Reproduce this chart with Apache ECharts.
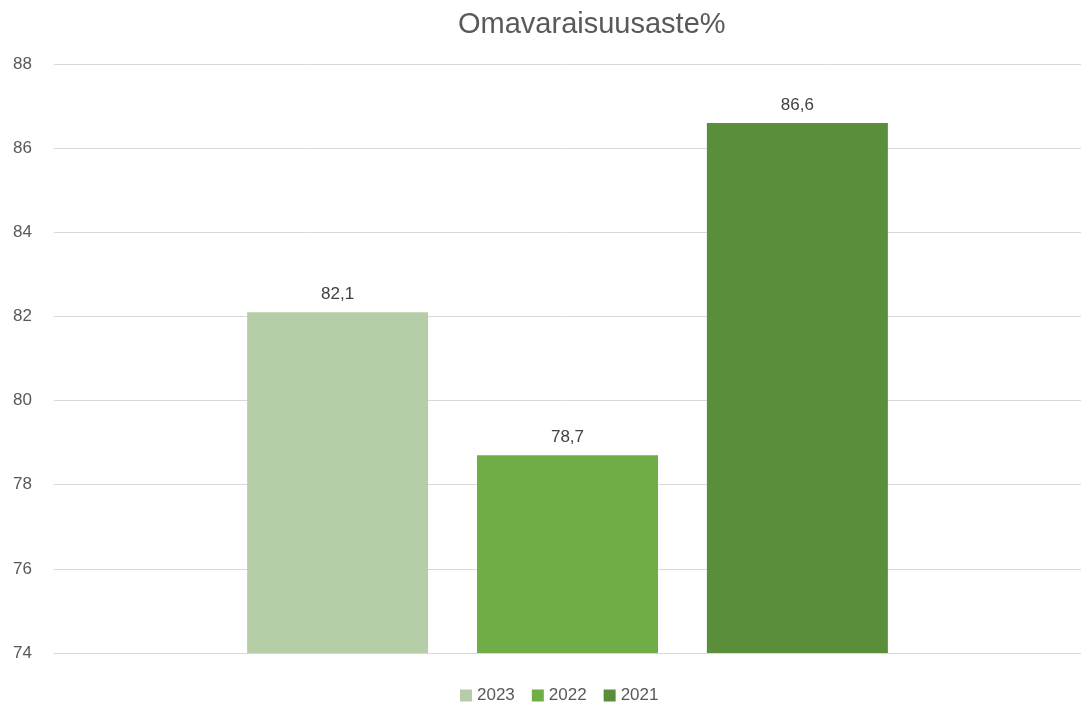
<!DOCTYPE html>
<html>
<head>
<meta charset="utf-8">
<script src="https://cdn.jsdelivr.net/npm/echarts@6/dist/echarts.min.js"></script>
<style>html,body{margin:0;padding:0;background:#fff;}#c{width:1081px;height:704px;}</style>
</head>
<body>
<div id="c"></div>
<script>
const categories = ['Omavaraisuusaste%'];
const seriesNames = ['2023', '2022', '2021'];
const values2023 = [82.1];
const values2022 = [78.7];
const values2021 = [86.6];
const yTicks = [74, 76, 78, 80, 82, 84, 86, 88];

const colors = ['#b5cea7', '#70ad47', '#5a8e3a'];
const seriesValues = [values2023, values2022, values2021];
const font = 'Liberation Sans, Arial, sans-serif';

const chart = echarts.init(document.getElementById('c'));
chart.setOption({
  animation: false,
  title: {
    text: 'Omavaraisuusaste%', left: 453, top: 5,
    textStyle: { fontFamily: font, fontSize: 29, fontWeight: 'normal', color: '#595959' }
  },
  legend: {
    top: 682, left: 455, itemWidth: 12, itemHeight: 12, itemGap: 17,
    icon: 'rect',
    textStyle: { fontFamily: font, fontSize: 17, color: '#595959' },
    data: seriesNames
  },
  grid: { left: 54, right: 0, top: 64, bottom: 51, containLabel: false },
  xAxis: {
    type: 'category', data: categories,
    axisLine: { show: true, lineStyle: { color: '#d9d9d9' } },
    axisTick: { show: false }, axisLabel: { show: false }
  },
  yAxis: {
    type: 'value', min: yTicks[0], max: yTicks[yTicks.length - 1], interval: 2,
    axisLine: { show: false }, axisTick: { show: false },
    splitLine: { lineStyle: { color: '#d9d9d9' } },
    axisLabel: { fontFamily: font, fontSize: 17, color: '#595959', margin: 22 }
  },
  series: seriesNames.map((n, i) => ({
    name: n, type: 'bar', data: seriesValues[i],
    barWidth: 181, barGap: '27%',
    itemStyle: { color: colors[i] },
    label: {
      show: true, position: 'top', distance: 9,
      fontFamily: font, fontSize: 17, color: '#404040',
      formatter: p => String(p.value).replace('.', ',')
    }
  }))
});
</script>
</body>
</html>
